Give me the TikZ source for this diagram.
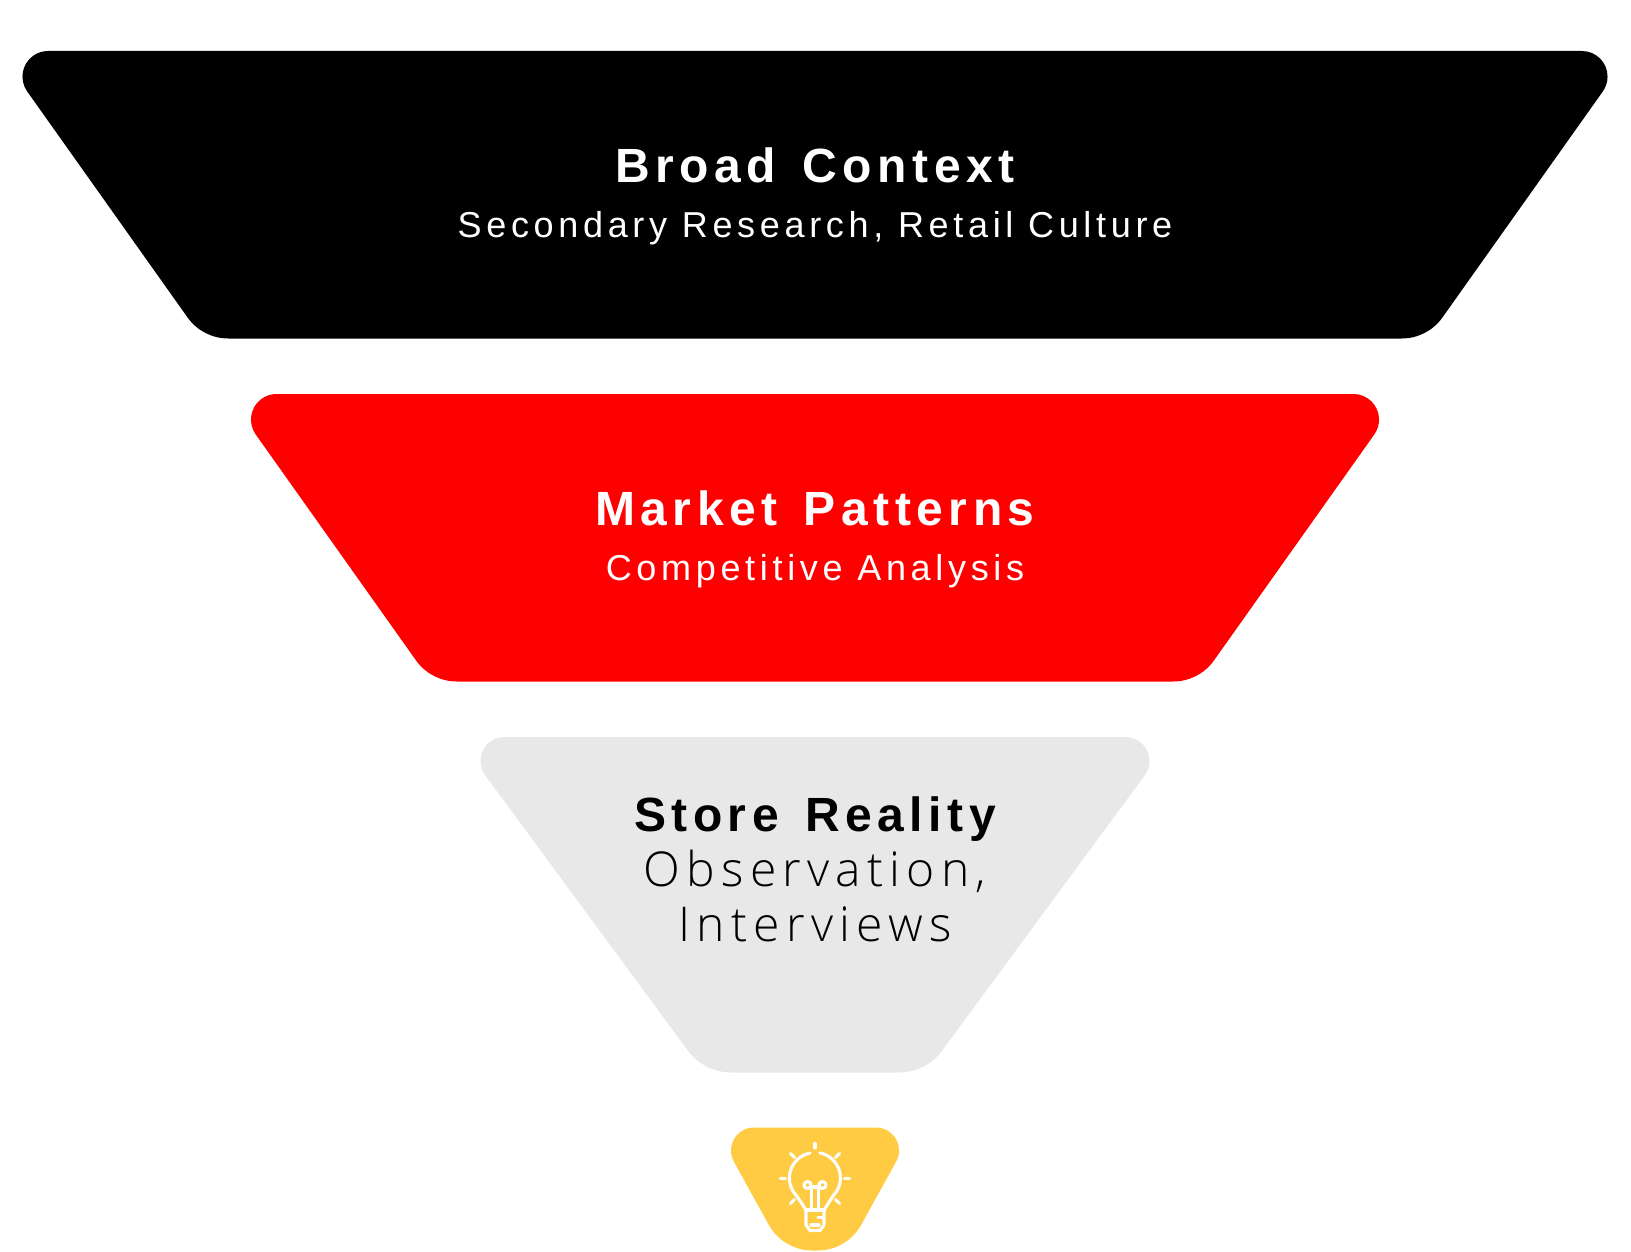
\documentclass[tikz,border=0pt]{standalone}
\usepackage{xcolor}
\usepackage{fontspec}
\setmainfont{Liberation Sans}
\usetikzlibrary{positioning}
\newfontfamily\titlefont[LetterSpace=11.5,WordSpace=1.4,Ligatures=NoCommon]{Liberation Sans}
\newfontfamily\subfont[LetterSpace=13,Ligatures=NoCommon]{Liberation Sans}
\newfontfamily\lightfont[LetterSpace=13,Ligatures=NoCommon]{Open Sans Light}
\definecolor{funnelred}{RGB}{255, 0, 0}
\definecolor{funnelgray}{RGB}{232, 232, 232}
\definecolor{funnelyellow}{RGB}{255, 203, 66}
\tikzset{
    title/.style={anchor=base, inner sep=0pt, font=\titlefont\bfseries\fontsize{48}{48}\selectfont},
    subtitle/.style={anchor=base, inner sep=0pt, font=\subfont\fontsize{36}{36}\selectfont},
    sublarge/.style={anchor=base, inner sep=0pt, font=\lightfont\fontsize{48}{48}\selectfont},
    bulbline/.style={draw=white, line width=3.1pt, line cap=round, line join=round}
}
% colour, top half width, bottom half width, top, bottom, top radius, bottom radius
\newcommand{\funnelstage}[7]{
    \pgfmathsetmacro{\tilt}{atan((#2-#3)/(#5-#4))}
    \pgfmathsetmacro{\cutT}{#6/tan(45-\tilt/2)}
    \pgfmathsetmacro{\cutB}{#7/tan(45+\tilt/2)}
    \fill [#1] ({815+#2-\cutT},#4) arc [start angle=-90, end angle=\tilt, radius=#6]
        -- ({815+#3-\cutB+#7*cos(\tilt)},{#5-#7+#7*sin(\tilt)}) arc [start angle=\tilt, end angle=90, radius=#7]
        -- ({815-#3+\cutB},#5) arc [start angle=90, end angle=180-\tilt, radius=#7]
        -- ({815-#2+\cutT-#6*cos(\tilt)},{#4+#6+#6*sin(\tilt)}) arc [start angle=180-\tilt, end angle=270, radius=#6]
        -- cycle;
}
\begin{document}
\begin{tikzpicture}[x=1pt, y=-1pt]
    \useasboundingbox (0,0) rectangle (1631,1252);

    % funnel stages
    \funnelstage{black}{816.5}{612.5}{51}{338.5}{25.6}{50}
    \funnelstage{funnelred}{588}{384}{394}{681.5}{25.6}{50}
    \funnelstage{funnelgray}{358}{111}{737}{1072.5}{24}{54}
    \funnelstage{funnelyellow}{100}{32}{1127.5}{1250.5}{23}{50}

    % labels
    \node (broad) [title, text=white] at (815,182.5) {Broad Context};
    \node (broadsub) [subtitle, text=white] at (815,237.5) {Secondary Research, Retail Culture};
    \node (market) [title, text=white] at (815,525.5) {Market Patterns};
    \node (marketsub) [subtitle, text=white] at (815,580.5) {Competitive Analysis};
    \node (store) [title, text=black] at (815,831.5) {Store Reality};
    \node (storesub) [sublarge, text=black] at (815,886.5) {Observation,};
    \node (storesubb) [sublarge, text=black] at (815,941.5) {Interviews};

    % bulb
    \draw [bulbline] (810,1153) arc [start angle=259, end angle=135, radius=25.5]
        -- (806,1210) -- (806,1225) -- (810,1230.5) -- (820,1230.5) -- (824,1225) -- (824,1210)
        -- (833,1196) arc [start angle=45, end angle=-79, radius=25.5];
    \draw [bulbline] (806,1210) -- (824,1210);
    \draw [bulbline] (818,1217.5) -- (824,1217.5);
    \draw [bulbline] (811,1225) -- (819,1225);
    \draw [bulbline] (807.5,1185) circle (3.5);
    \draw [bulbline] (822.5,1185) circle (3.5);
    \draw [bulbline] (811.7,1187) -- (818.3,1187);
    \draw [bulbline] (811.7,1187) -- (811.7,1210);
    \draw [bulbline] (818.3,1187) -- (818.3,1210);
    \foreach \xa/\ya/\xb/\yb in {815/1143.5/815/1148, 790.5/1153.5/794.5/1157.5, 839.5/1153.5/835.5/1157.5, 780.5/1178.3/785.5/1178.3, 844.5/1178.3/849.5/1178.3, 790.5/1203.5/794.5/1199.5, 839.5/1203.5/835.5/1199.5}
        \draw [bulbline] (\xa,\ya) -- (\xb,\yb);
\end{tikzpicture}
\end{document}
